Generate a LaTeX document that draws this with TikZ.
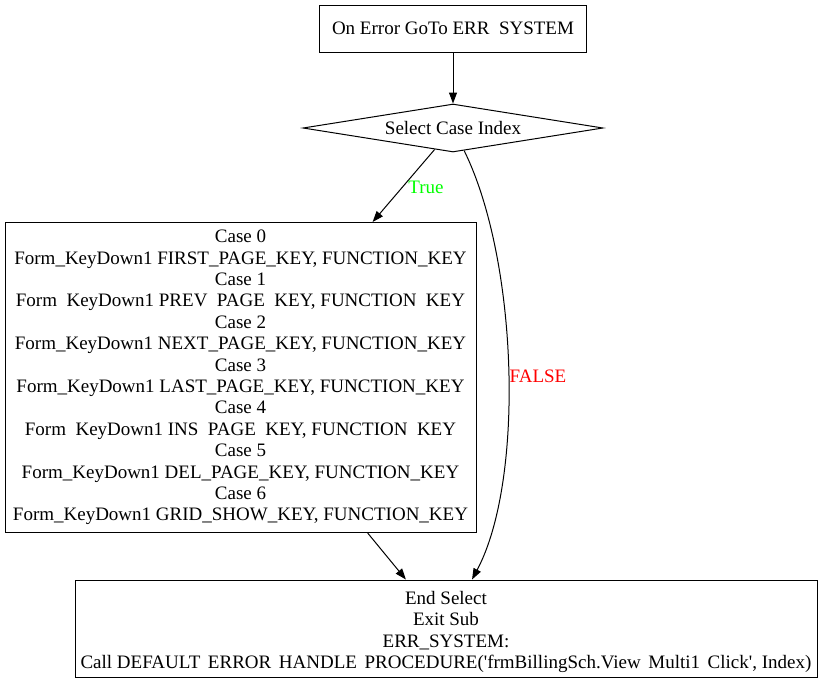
\documentclass[tikz,border=0pt]{standalone}
\usepackage{fontspec}
\setmainfont{Liberation Serif}
\usetikzlibrary{shapes.geometric,arrows.meta}
\definecolor{truegreen}{RGB}{0,255,0}
\definecolor{falsered}{RGB}{255,0,0}
\newcommand{\gap}{\hspace{0.5em}}
\newcommand{\sgap}{\hspace{0.4em}}
\tikzset{
  box/.style={draw, line width=1pt, rectangle, inner sep=0pt, align=center,
    font=\fontsize{19}{21.4}\selectfont},
  dec/.style={draw, line width=1pt, diamond, inner sep=0pt, aspect=6.25,
    minimum width=300pt, minimum height=48pt,
    font=\fontsize{19}{21.4}\selectfont},
  conn/.style={line width=1pt, -{Triangle[length=11pt,width=8pt]}},
  lbl/.style={font=\fontsize{19}{21.4}\selectfont, inner sep=0pt}
}
\begin{document}
\begin{tikzpicture}[x=1pt,y=-1pt]
\useasboundingbox (0,0) rectangle (821,683);
\node[box, minimum width=267pt, minimum height=47pt] (top) at (453,28.5) {On Error GoTo ERR\gap SYSTEM};
\node[dec] (dia) at (453,128) {Select Case Index};
\node[box, minimum width=471pt, minimum height=310pt] (big) at (240.5,377.5) {Case 0\\
Form\_KeyDown1 FIRST\_PAGE\_KEY, FUNCTION\_KEY\\
Case 1\\
Form\gap KeyDown1 PREV\gap PAGE\gap KEY, FUNCTION\gap KEY\\
Case 2\\
Form\_KeyDown1 NEXT\_PAGE\_KEY, FUNCTION\_KEY\\
Case 3\\
Form\_KeyDown1 LAST\_PAGE\_KEY, FUNCTION\_KEY\\
Case 4\\
Form\gap KeyDown1 INS\gap PAGE\gap KEY, FUNCTION\gap KEY\\
Case 5\\
Form\_KeyDown1 DEL\_PAGE\_KEY, FUNCTION\_KEY\\
Case 6\\
Form\_KeyDown1 GRID\_SHOW\_KEY, FUNCTION\_KEY};
\node[box, minimum width=742pt, minimum height=97pt] (bot) at (446,628.5) {\begin{tabular}{@{}c@{}}\rule{0pt}{22pt}End Select\\
Exit Sub\\
ERR\_SYSTEM:\\
Call DEFAULT\sgap ERROR\sgap HANDLE\sgap PROCEDURE(\textquotesingle frmBillingSch.View\sgap Multi1\sgap Click\textquotesingle, Index)\end{tabular}};
\draw[conn] (top) -- (dia);
\draw[conn] (dia) -- (big);
\draw[conn] (dia) .. controls (518,260) and (525,480) .. (bot);
\draw[conn] (big) -- (bot);
\node[lbl, text=truegreen] (tlbl) at (426,187) {True};
\node[lbl, text=falsered] (flbl) at (538,376) {FALSE};
\end{tikzpicture}
\end{document}
